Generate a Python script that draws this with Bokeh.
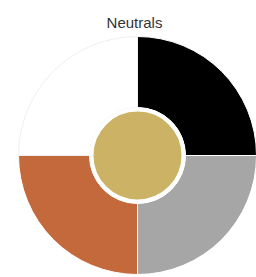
import numpy as np
from bokeh.plotting import figure
from bokeh.models import ColumnDataSource, Range1d
from bokeh.core.properties import value
from bokeh.embed import file_html
from bokeh.resources import INLINE

title_text = "Neutrals"
categories = ["Black", "Gray", "Copper", "White"]
shares = [25, 25, 25, 25]

slice_colors = ["#000000", "#a6a6a6", "#c4693c", "#ffffff"]
slice_lines = ["#ffffff", "#ffffff", "#ffffff", "#efefef"]
center_color = "#ccb264"

W, H = 256, 277
p = figure(width=W, height=H, output_backend="svg", toolbar_location=None,
           x_range=Range1d(0, W), y_range=Range1d(0, H), min_border=0)
p.axis.visible = False
p.grid.visible = False
p.outline_line_color = None
p.background_fill_color = "white"
p.border_fill_color = "white"

cx, cy = 137, H - 155
vals = np.array(shares, dtype=float)
frac = np.cumsum(vals) / vals.sum()
start_frac = np.concatenate([[0], frac[:-1]])
# clockwise from 12 o'clock
end_angle = np.pi / 2 - start_frac * 2 * np.pi
start_angle = np.pi / 2 - frac * 2 * np.pi

src = ColumnDataSource(dict(cat=categories, start=start_angle, end=end_angle,
                            color=slice_colors, lc=slice_lines))
p.annular_wedge(x=cx, y=cy, inner_radius=48, outer_radius=119,
                start_angle="start", end_angle="end", fill_color="color",
                line_color="lc", line_width=1, source=src)

p.circle(x=[cx], y=[cy], radius=46, fill_color=center_color,
         line_color="white", line_width=4)

p.text(x=[134], y=[H - 22], text=[title_text], text_align="center",
       text_baseline="middle", text_font=value("Liberation Sans"),
       text_font_size="15px", text_color="#333333")

open("out.html", "w").write(file_html(p, INLINE))
